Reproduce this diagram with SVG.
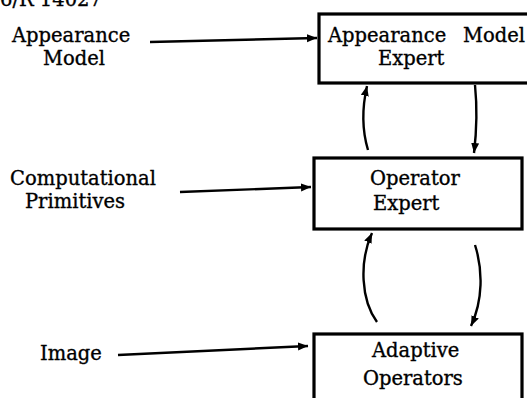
<svg xmlns="http://www.w3.org/2000/svg" width="527" height="398" viewBox="0 0 527 398">
<defs>
<style>
text{font-family:"DejaVu Serif","Liberation Serif",serif;font-size:19.5px;fill:#000;stroke:#000;stroke-width:0.35}
.box{fill:#fff;stroke:#000;stroke-width:3.2}
.c{fill:none;stroke:#000;stroke-width:2.4}
</style>
<marker id="ah" markerUnits="userSpaceOnUse" markerWidth="12" markerHeight="10" refX="10" refY="5" orient="auto">
<path d="M0,1 L10,5 L0,9 Z" fill="#000"/>
</marker>
</defs>
<rect width="527" height="398" fill="#fff"/>
<text x="0" y="6">6/R  14027</text>
<g id="lbl-appearance"><text x="12" y="42">Appearance</text><text x="43" y="65">Model</text></g>
<g id="lbl-primitives"><text x="10" y="185">Computational</text><text x="25" y="208">Primitives</text></g>
<g id="lbl-image"><text x="40" y="360">Image</text></g>
<g id="n-ame"><rect class="box" x="319" y="14" width="215" height="69"/><text x="328" y="42">Appearance<tspan x="463">Model</tspan></text><text x="378" y="65">Expert</text></g>
<g id="n-oe"><rect class="box" x="314" y="158" width="208" height="71"/><text x="370" y="185">Operator</text><text x="373" y="210">Expert</text></g>
<g id="n-ao"><rect class="box" x="314" y="334" width="208" height="80"/><text x="372" y="357">Adaptive</text><text x="363" y="385">Operators</text></g>
<g id="connectors">
<path class="c" d="M150 42 L317 38" marker-end="url(#ah)"/>
<path class="c" d="M180 192 L311 187" marker-end="url(#ah)"/>
<path class="c" d="M118 355 L308 346" marker-end="url(#ah)"/>
<path class="c" d="M368 150 C362 130 362 108 367 86" marker-end="url(#ah)"/>
<path class="c" d="M475 85 C477 105 477 128 474 153" marker-end="url(#ah)"/>
<path class="c" d="M377 322 C361 300 359 262 372 233" marker-end="url(#ah)"/>
<path class="c" d="M475 245 C483 270 483 300 471 326" marker-end="url(#ah)"/>
</g>
</svg>
